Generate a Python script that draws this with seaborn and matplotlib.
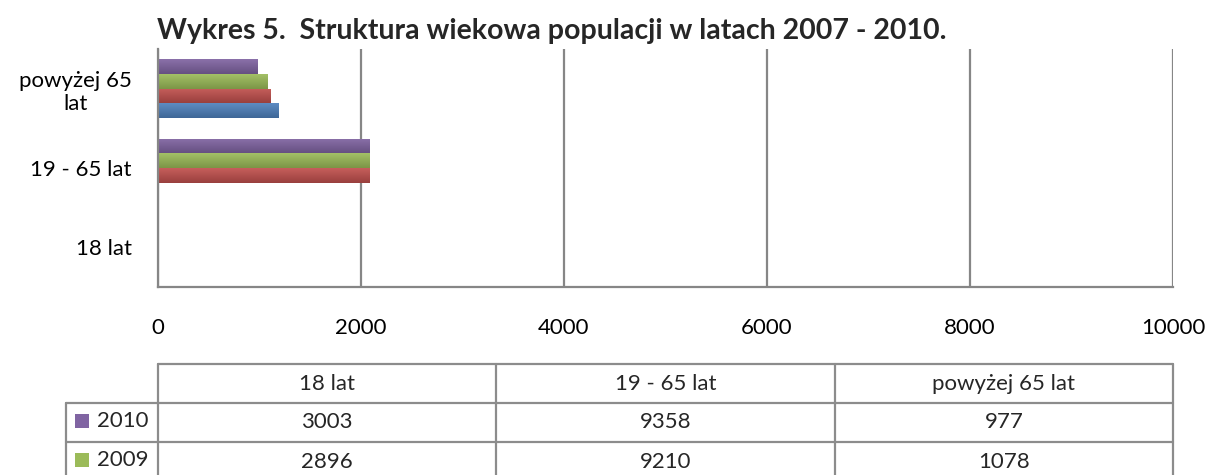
import numpy as np
import pandas as pd
import matplotlib
matplotlib.use('Agg')
import matplotlib.pyplot as plt
import seaborn as sns

# Data
ages = ['18 lat', '19 - 65 lat', 'powyżej 65 lat']
years = ['2010', '2009', '2008', '2007']
# bar lengths as they appear in the picture
drawn_2010 = [0, 2088, 977]
drawn_2009 = [0, 2088, 1078]
drawn_2008 = [0, 2088, 1110]
drawn_2007 = [0, 0, 1185]
# values printed in the data table
table_years = ['2010', '2009']
table_2010 = [3003, 9358, 977]
table_2009 = [2896, 9210, 1078]
xticks = [0, 2000, 4000, 6000, 8000, 10000]

colors = {'2010': '#8064A2', '2009': '#9BBB59', '2008': '#C0504D', '2007': '#4F81BD'}

df = pd.DataFrame({
    'wiek': ages * 4,
    'rok': [y for y in years for _ in ages],
    'liczba': drawn_2010 + drawn_2009 + drawn_2008 + drawn_2007,
})

sns.set_theme(style='white')
plt.rcParams['font.family'] = ['Lato', 'DejaVu Sans']

W, H = 1210, 475
fig = plt.figure(figsize=(W / 100, H / 100), dpi=100)
ax = fig.add_axes([158 / W, (H - 287) / H, (1173 - 158) / W, (287 - 49) / H])

sns.barplot(data=df, y='wiek', x='liczba', hue='rok', orient='h',
            order=ages[::-1], hue_order=years, palette=colors, saturation=1,
            width=0.74, linewidth=0, legend=False, ax=ax)

# Excel-like vertical gradient on every bar
for bar in list(ax.patches):
    w = bar.get_width()
    if w <= 0:
        continue
    x0, y0, h = bar.get_x(), bar.get_y(), bar.get_height()
    base = np.array(bar.get_facecolor()[:3])
    top = base + (1 - base) * 0.08
    bot = base * 0.80
    t = np.linspace(0, 1, 32)[:, None, None]
    img = top * (1 - t) + bot * t
    im = ax.imshow(img, extent=(x0, x0 + w, y0 + h, y0), aspect='auto',
                   interpolation='bilinear', zorder=bar.get_zorder() + 0.1)
    im.set_clip_path(bar)

fs = 16
ax.set_xlim(0, 10000)
ax.set_ylim(2.5, -0.5)
ax.set_xticks(xticks)
ax.set_xticklabels([str(v) for v in xticks], fontsize=fs)
labels = ['powyżej 65\nlat', '19 - 65 lat', '18 lat']
ax.set_yticks(range(3))
ax.set_yticklabels(labels, fontsize=fs)
for lab in ax.get_yticklabels():
    lab.set_multialignment('center')
ax.tick_params(axis='x', length=0, pad=22, colors='black')
ax.tick_params(axis='y', length=0, pad=19, colors='black')
ax.set_xlabel('')
ax.set_ylabel('')
ax.grid(axis='x', color='#868686', linewidth=1.6)
ax.grid(axis='y', visible=False)
ax.set_axisbelow(True)
for s in ['top', 'right']:
    ax.spines[s].set_visible(False)
for s in ['left', 'bottom']:
    ax.spines[s].set_color('#868686')
    ax.spines[s].set_linewidth(1.6)

fig.text(157 / W, (H - 31) / H, 'Wykres 5.  Struktura wiekowa populacji w latach 2007 - 2010.',
         fontsize=20.5, fontweight='bold', ha='left', va='center')

# Data table below the chart
col_w = (1173 - 158) / 3
lab_x = -(158 - 66) / col_w
tab = fig.add_axes([66 / W, (H - 481) / H, (1173 - 66) / W, (481 - 364) / H])
tab.set_xlim(lab_x, 3)
tab.set_ylim(3, 0)
tab.axis('off')
lc = '#8c8c8c'
lw = 1.6
tab.plot([0, 3], [0, 0], color=lc, lw=lw, clip_on=False)
for r in [1, 2, 3]:
    tab.plot([lab_x, 3], [r, r], color=lc, lw=lw, clip_on=False)
tab.plot([lab_x, lab_x], [1, 3], color=lc, lw=lw, clip_on=False)
for c in [0, 1, 2, 3]:
    tab.plot([c, c], [0, 3], color=lc, lw=lw, clip_on=False)

for i, a in enumerate(ages):
    tab.text(i + 0.5, 0.5, a, ha='center', va='center', fontsize=fs)
for r, (yr, vals) in enumerate(zip(table_years, [table_2010, table_2009]), start=1):
    sq_x = (82 - 158) / col_w
    tab.plot([sq_x], [r + 0.47], marker='s', markersize=10.5, color=colors[yr],
             markeredgewidth=0, clip_on=False)
    tab.text((97 - 158) / col_w, r + 0.45, yr, ha='left', va='center', fontsize=fs)
    for i, v in enumerate(vals):
        tab.text(i + 0.5, r + 0.5, str(v), ha='center', va='center', fontsize=fs)

fig.savefig('out.png', dpi=100)
